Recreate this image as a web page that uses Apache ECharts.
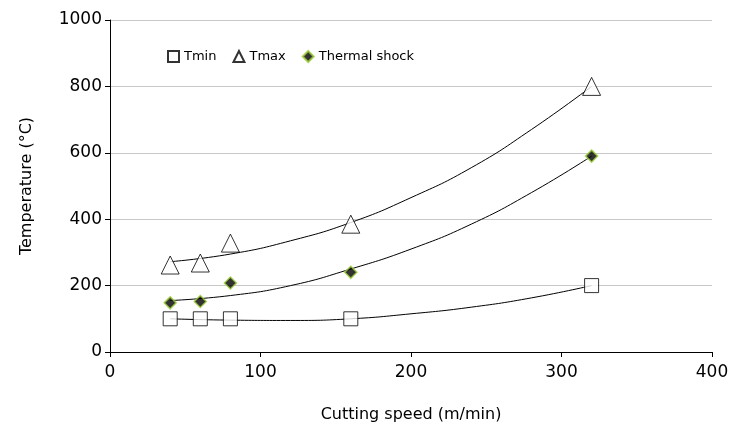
<!DOCTYPE html>
<html>
<head>
<meta charset="utf-8">
<script src="https://cdn.jsdelivr.net/npm/echarts@6/dist/echarts.min.js"></script>
<style>html,body{margin:0;padding:0;background:#fff}#chart{width:741px;height:434px}</style>
</head>
<body>
<div id="chart"></div>
<script>
// measured points
var speeds = [40, 60, 80, 160, 320];
var tMin = [100, 100, 100, 100, 200];
var tMax = [262, 268, 328, 385, 800];
var shock = [148, 152, 208, 240, 590];

// trend lines
var trendX = [40, 80, 120, 160, 200, 240, 280, 320];
var trendMin = [100, 96, 95, 100, 115, 135, 163, 200];
var trendShock = [155, 170, 200, 250, 310, 385, 480, 590];
var trendMax = [272, 295, 335, 390, 465, 555, 670, 800];

function pairs(xs, ys) {
    return xs.map(function (x, i) { return [x, ys[i]]; });
}
function trend(ys) {
    return {
        type: 'line', data: pairs(trendX, ys), smooth: 0.5, symbol: 'none',
        lineStyle: { color: '#000', width: 1 }, silent: true, z: 1
    };
}

var myChart = echarts.init(document.getElementById('chart'));
var font = 'DejaVu Sans';
var option = {
    animation: false,
    textStyle: { fontFamily: font },
    grid: { left: 110, right: 29, top: 20, bottom: 82 },
    legend: {
        left: 162, top: 45, itemGap: 16, itemWidth: 11, itemHeight: 11,
        textStyle: { fontSize: 13, color: '#000' },
        data: ['Tmin', 'Tmax', 'Thermal shock']
    },
    xAxis: {
        type: 'value', min: 0, max: 400, interval: 100,
        name: 'Cutting speed (m/min)', nameLocation: 'middle', nameGap: 55,
        nameTextStyle: { fontSize: 16, color: '#000' },
        axisLine: { lineStyle: { color: '#000' } },
        axisTick: { show: true, lineStyle: { color: '#000' } },
        axisLabel: { fontSize: 17, color: '#000', margin: 12 },
        splitLine: { show: false }
    },
    yAxis: {
        type: 'value', min: 0, max: 1000, interval: 200,
        name: 'Temperature (°C)', nameLocation: 'middle', nameGap: 75,
        nameTextStyle: { fontSize: 16, color: '#000' },
        axisLine: { show: true, lineStyle: { color: '#000' } },
        axisTick: { show: true, lineStyle: { color: '#000' } },
        axisLabel: { fontSize: 17, color: '#000', formatter: function (v) { return String(v); } },
        splitLine: { lineStyle: { color: '#c8c8c8' } }
    },
    series: [
        trend(trendMin), trend(trendShock), trend(trendMax),
        {
            name: 'Tmin', type: 'scatter', data: pairs(speeds, tMin),
            symbol: 'rect', symbolSize: 14, z: 3,
            itemStyle: { color: '#fff', borderColor: '#000', borderWidth: 1 }
        },
        {
            name: 'Tmax', type: 'scatter', data: pairs(speeds, tMax),
            symbol: 'triangle', symbolSize: 18, z: 3,
            itemStyle: { color: '#fff', borderColor: '#000', borderWidth: 1 }
        },
        {
            name: 'Thermal shock', type: 'scatter', data: pairs(speeds, shock),
            symbol: 'diamond', symbolSize: 12, z: 3,
            itemStyle: { color: '#000', borderColor: '#9acd32', borderWidth: 1.5 }
        }
    ]
};
myChart.setOption(option);
</script>
</body>
</html>
